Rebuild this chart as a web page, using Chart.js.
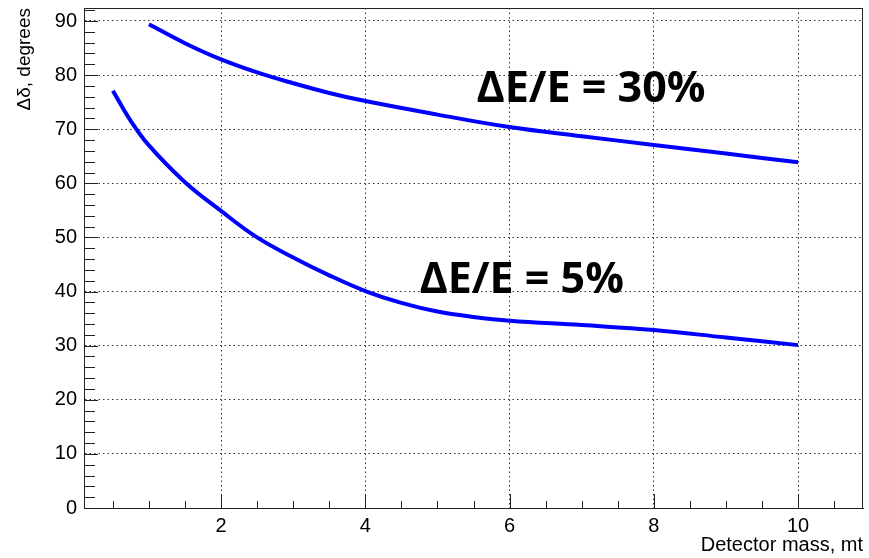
<!DOCTYPE html>
<html>
<head>
<meta charset="utf-8">
<script src="https://cdn.jsdelivr.net/npm/chart.js@4"></script>
<style>
  html, body { margin: 0; padding: 0; background: #fff; }
  #wrap { width: 869px; height: 558px; }
</style>
</head>
<body>
<div id="wrap"><canvas id="myChart" width="869" height="558"></canvas></div>
<script>
// detector mass (mt) and resolution (degrees)
const massLow = [0.5, 0.75, 1, 1.5, 2, 2.5, 3, 3.5, 4, 4.5, 5, 5.5, 6, 7, 8, 9, 10];
const delta5 = [77.1, 71.5, 67.0, 60.2, 54.9, 50.0, 46.3, 43.0, 40.1, 37.9, 36.3, 35.3, 34.6, 33.8, 32.9, 31.5, 30.1];
const massHigh = [1, 1.5, 2, 2.5, 3, 3.5, 4, 5, 6, 7, 8, 9, 10];
const delta30 = [89.4, 85.9, 82.9, 80.5, 78.5, 76.7, 75.2, 72.7, 70.4, 68.7, 67.1, 65.5, 63.9];

const xTicks = [2, 4, 6, 8, 10];
const yTicks = [0, 10, 20, 30, 40, 50, 60, 70, 80, 90];

const curveLabels = [
  { text: "\u0394E/E = 30%", x: 5.54, y: 75.1 },
  { text: "\u0394E/E = 5%", x: 4.75, y: 39.7 },
];

const toPoints = (xs, ys) => xs.map((x, i) => ({ x, y: ys[i] }));

// frame, inward ticks (ROOT style) and curve labels
const frameTicks = {
  id: "frameTicks",
  afterDraw(chart) {
    const { ctx, chartArea: a, scales } = chart;
    const xs = scales.x;
    const ys = scales.y;
    ctx.save();
    ctx.strokeStyle = "#222";
    ctx.lineWidth = 1;
    ctx.strokeRect(a.left + 0.5, a.top + 0.5, a.right - a.left - 1, a.bottom - a.top);
    ctx.beginPath();
    for (let v = 0.5; v < xs.max; v += 0.5) {
      const px = Math.round(xs.getPixelForValue(v)) + 0.5;
      const len = v % 2 === 0 ? 14 : 7;
      ctx.moveTo(px, a.bottom);
      ctx.lineTo(px, a.bottom - len);
    }
    for (let v = 2; v < ys.max; v += 2) {
      const py = Math.round(ys.getPixelForValue(v)) + 0.5;
      const len = v % 10 === 0 ? 14 : 11;
      ctx.moveTo(a.left, py);
      ctx.lineTo(a.left + len, py);
    }
    ctx.stroke();

    ctx.fillStyle = "#000";
    ctx.font = "bold 43px 'Open Sans'";
    ctx.textAlign = "left";
    ctx.textBaseline = "alphabetic";
    curveLabels.forEach((l) => {
      ctx.fillText(l.text, xs.getPixelForValue(l.x), ys.getPixelForValue(l.y));
    });
    ctx.restore();
  },
};

const ctx = document.getElementById("myChart");

new Chart(ctx, {
  type: "line",
  data: {
    datasets: [
      {
        label: "5%",
        data: toPoints(massLow, delta5),
        borderColor: "#0000ff",
        borderWidth: 4,
        pointRadius: 0,
        tension: 0.4,
      },
      {
        label: "30%",
        data: toPoints(massHigh, delta30),
        borderColor: "#0000ff",
        borderWidth: 4,
        pointRadius: 0,
        tension: 0.4,
      },
    ],
  },
  options: {
    responsive: false,
    animation: false,
    layout: { padding: { top: 8, right: 6, left: 0, bottom: 0 } },
    plugins: {
      legend: { display: false },
      tooltip: { enabled: false },
    },
    scales: {
      x: {
        type: "linear",
        min: 0.1,
        max: 10.9,
        afterBuildTicks: (axis) => {
          axis.ticks = xTicks.map((v) => ({ value: v }));
        },
        afterFit: (axis) => {
          axis.height = 50;
          axis.paddingLeft = 0;
          axis.paddingRight = 0;
        },
        ticks: {
          padding: 6,
          color: "#000",
          font: { family: "'Liberation Sans', Arial", size: 20 },
        },
        grid: {
          drawTicks: false,
          color: "#333",
        },
        border: { display: true, color: "#222", width: 1, dash: [1.5, 3] },
        title: {
          display: true,
          text: "Detector mass, mt",
          align: "end",
          color: "#000",
          font: { family: "'Liberation Sans', Arial", size: 20 },
          padding: { top: 0, bottom: 1 },
        },
      },
      y: {
        min: 0,
        max: 92.4,
        afterBuildTicks: (axis) => {
          axis.ticks = yTicks.map((v) => ({ value: v }));
        },
        afterFit: (axis) => {
          axis.width = 84;
          axis.paddingTop = 0;
          axis.paddingBottom = 0;
        },
        ticks: {
          padding: 7,
          color: "#000",
          font: { family: "'Liberation Sans', Arial", size: 20 },
        },
        grid: {
          drawTicks: false,
          color: "#333",
        },
        border: { display: true, color: "#222", width: 1, dash: [1.5, 3] },
        title: {
          display: true,
          text: "\u0394\u03b4, degrees",
          align: "end",
          color: "#000",
          font: { family: "'Liberation Sans', Arial", size: 19 },
          padding: { top: 13, bottom: 0 },
        },
      },
    },
  },
  plugins: [frameTicks],
});
</script>
</body>
</html>
